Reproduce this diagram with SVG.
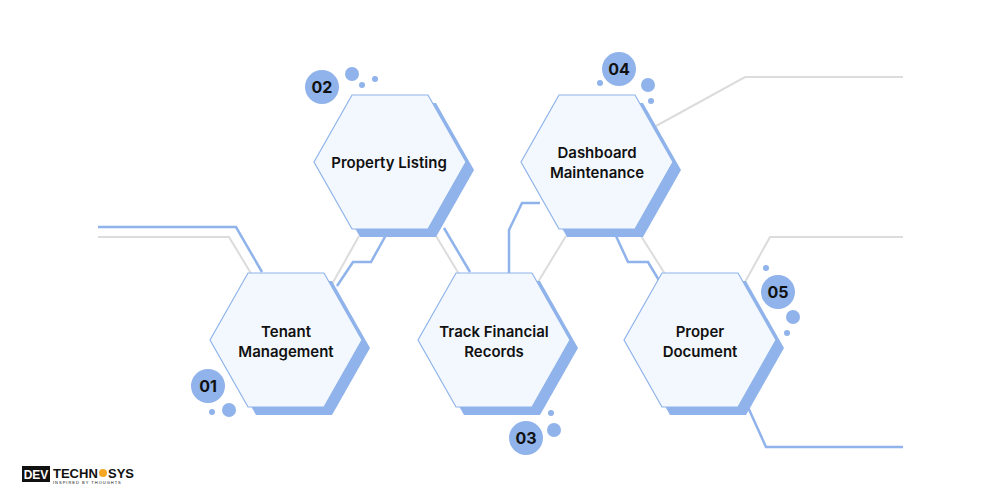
<svg xmlns="http://www.w3.org/2000/svg" width="1000" height="500" viewBox="0 0 1000 500">
<defs>
<style>
.hex{fill:#f3f8fe;stroke:#8fb3ea;stroke-width:1.2}
.sh{fill:#8fb3ea}
.t{font-family:Inter,"Noto Sans",sans-serif;font-weight:600;font-size:15px;fill:#111;text-anchor:middle}
.b{fill:#8fb3ea}
.bt{font-family:Inter,"Noto Sans",sans-serif;font-weight:700;font-size:16px;fill:#111;text-anchor:middle}
.bl{fill:none;stroke:#8fb3ea;stroke-width:2.5}
.gl{fill:none;stroke:#dcdcdc;stroke-width:2}
</style>
<polygon id="h" points="-76,0 -38,-67 38,-67 76,0 38,67 -38,67"/>
</defs>
<rect width="1000" height="500" fill="#fff"/>
<g id="connectors">
<polyline class="gl" points="98,237 229,237 252,275"/>
<polyline class="bl" points="98,227 236,227 262,272"/>
<polyline class="gl" points="331,286 359,236"/>
<polyline class="bl" points="337,286 353,262 371,262 386,235"/>
<polyline class="gl" points="436,236 459,274"/>
<polyline class="bl" points="444,228 470,272"/>
<polyline class="bl" points="509,273 509,230 522,203 540,203"/>
<polyline class="gl" points="538,282 566,236"/>
<polyline class="bl" points="616,236 628,262 648,262 660,282"/>
<polyline class="gl" points="641,236 665,274"/>
<polyline class="gl" points="656,126 745,77 903,77"/>
<polyline class="gl" points="745,282 770,237 903,237"/>
<polyline class="bl" points="747,405 766,447 903,447"/>
</g>
<g id="n1"><use href="#h" class="sh" transform="translate(294,348)"/><use href="#h" class="hex" transform="translate(286,340)"/>
<text class="t" x="286" y="337">Tenant</text><text class="t" x="286" y="357">Management</text>
<circle class="b" cx="208" cy="386" r="17"/><text class="bt" x="208" y="392">01</text><circle class="b" cx="229" cy="410" r="7"/><circle class="b" cx="212" cy="412" r="3"/></g>
<g id="n2"><use href="#h" class="sh" transform="translate(398,170)"/><use href="#h" class="hex" transform="translate(390,162)"/>
<text class="t" x="389" y="168">Property Listing</text>
<circle class="b" cx="322" cy="87" r="17"/><text class="bt" x="322" y="93">02</text><circle class="b" cx="352" cy="74" r="7"/><circle class="b" cx="362" cy="85" r="3"/><circle class="b" cx="375" cy="79" r="3"/></g>
<g id="n3"><use href="#h" class="sh" transform="translate(502,348)"/><use href="#h" class="hex" transform="translate(494,340)"/>
<text class="t" x="494" y="337">Track Financial</text><text class="t" x="494" y="357">Records</text>
<circle class="b" cx="526" cy="438" r="17"/><text class="bt" x="526" y="444">03</text><circle class="b" cx="554" cy="430" r="7"/><circle class="b" cx="551" cy="413" r="3"/></g>
<g id="n4"><use href="#h" class="sh" transform="translate(605,170)"/><use href="#h" class="hex" transform="translate(597,162)"/>
<text class="t" x="597" y="158">Dashboard</text><text class="t" x="597" y="178">Maintenance</text>
<circle class="b" cx="619" cy="69" r="17"/><text class="bt" x="619" y="75">04</text><circle class="b" cx="648" cy="85" r="7"/><circle class="b" cx="651" cy="101" r="3"/><circle class="b" cx="600" cy="83" r="3"/></g>
<g id="n5"><use href="#h" class="sh" transform="translate(708,348)"/><use href="#h" class="hex" transform="translate(700,340)"/>
<text class="t" x="700" y="337">Proper</text><text class="t" x="700" y="357">Document</text>
<circle class="b" cx="778" cy="292" r="17"/><text class="bt" x="778" y="298">05</text><circle class="b" cx="793" cy="317" r="7"/><circle class="b" cx="787" cy="333" r="3"/><circle class="b" cx="766" cy="268" r="3"/></g>
<g id="logo">
<rect x="22" y="466" width="28" height="16" fill="#111"/>
<text x="36" y="479" font-family="Liberation Sans,sans-serif" font-weight="700" font-size="12" fill="#fff" text-anchor="middle">DEV</text>
<text x="53" y="478" font-family="Liberation Sans,sans-serif" font-weight="700" font-size="13" fill="#111">TECHN</text>
<circle cx="103" cy="473" r="4" fill="#f5a623"/>
<text x="108" y="478" font-family="Liberation Sans,sans-serif" font-weight="700" font-size="13" fill="#111">SYS</text>
<text x="53" y="484" font-family="Liberation Sans,sans-serif" font-size="4" fill="#111" letter-spacing="1">INSPIRED BY THOUGHTS</text>
</g>
</svg>
